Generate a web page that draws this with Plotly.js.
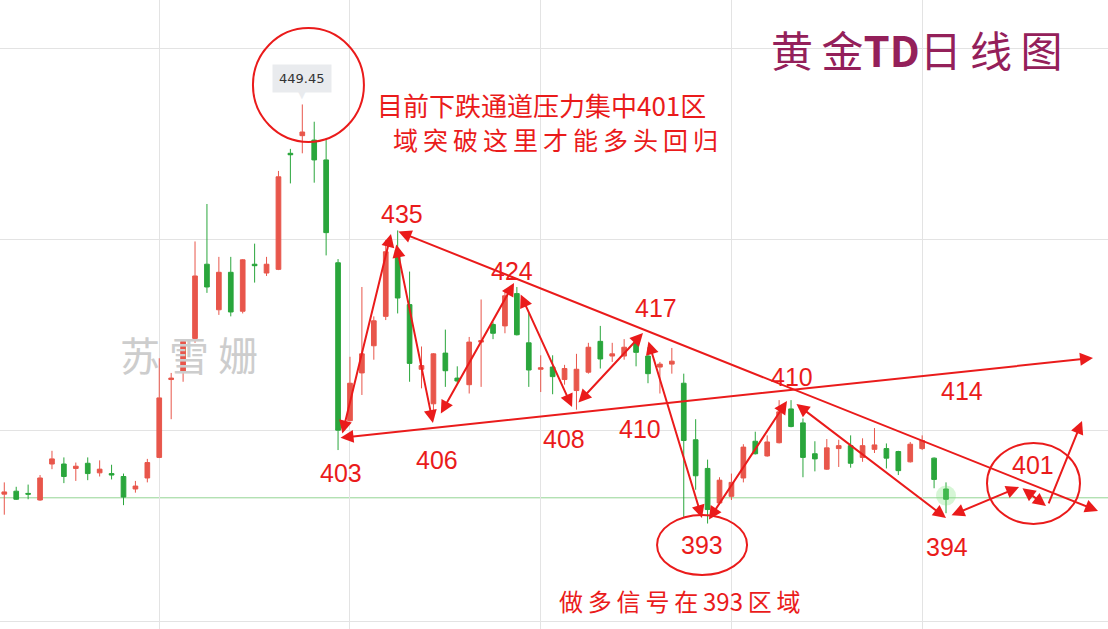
<!DOCTYPE html>
<html>
<head>
<meta charset="utf-8">
<script src="https://cdn.plot.ly/plotly-3.0.1.min.js"></script>
<style>
  html, body { margin: 0; padding: 0; background: #ffffff; }
  #chart { width: 1108px; height: 629px; }
</style>
</head>
<body>
<div id="chart"></div>
<script>
// ---- data (candle index, OHLC) ----
const candleIndex = [0,1,2,3,4,5,6,7,8,9,10,11,12,13,14,15,16,17,18,19,20,21,22,23,24,25,26,27,28,29,30,31,32,33,34,35,36,37,38,39,40,41,42,43,44,45,46,47,48,49,50,51,52,53,54,55,56,57,58,59,60,61,62,63,64,65,66,67,68,69,70,71,72,73,74,75,76,77,78,79];
const openPrices = [396.4,396.8,396.5,395.6,400.5,400.5,399.9,400.6,399.3,399.2,398.8,397.1,398.6,401.4,412.0,413.1,417.6,427.7,421.5,426.6,421.3,427.7,426.5,427.0,442.8,445.2,444.6,441.9,427.9,406.4,412.9,416.6,420.6,429.6,422.2,413.4,408.7,415.6,412.2,411.3,417.1,419.5,419.3,423.7,417.0,413.4,413.7,412.0,410.5,413.0,417.2,415.2,415.2,417.1,415.2,413.7,414.1,411.5,403.8,399.9,395.2,396.1,398.6,403.6,401.6,403.4,408.0,406.1,401.9,399.8,402.6,403.0,401.4,402.5,402.6,402.2,400.8,402.6,401.3,397.1];
const highPrices = [398.0,397.4,397.7,399.0,402.3,401.4,400.7,401.4,401.0,400.4,399.2,398.2,401.2,414.9,412.9,417.5,430.8,435.9,428.7,428.7,428.4,430.5,428.7,440.4,443.4,449.45,447.1,444.6,428.4,415.1,424.6,420.6,431.0,432.3,426.7,416.5,415.6,418.8,413.8,417.8,422.9,419.8,424.2,424.6,421.1,415.3,415.3,414.0,415.5,417.0,419.3,417.0,417.5,417.8,416.4,414.4,416.3,412.8,406.6,401.1,398.7,399.2,403.2,404.9,404.4,409.2,409.2,406.7,403.6,403.9,403.8,404.4,404.0,405.4,403.3,402.3,403.5,404.4,401.4,398.0];
const lowPrices = [393.6,395.6,395.7,395.5,399.8,397.9,398.2,398.3,398.8,398.4,394.9,396.6,398.0,401.3,406.6,411.7,417.0,423.8,420.8,420.6,421.0,425.2,426.1,426.9,438.7,442.8,438.8,428.9,402.4,406.3,409.9,414.7,420.1,421.0,411.7,410.8,406.9,411.0,411.5,410.1,411.0,417.5,418.3,418.0,411.0,410.3,410.0,411.3,407.9,412.8,413.5,414.4,414.7,413.8,411.5,410.1,412.8,393.3,397.0,392.4,395.0,395.6,398.0,401.8,401.5,403.3,405.5,398.7,399.5,399.7,400.1,400.0,400.8,402.0,399.9,399.0,400.7,402.4,397.2,393.8];
const closePrices = [396.7,395.7,396.4,398.6,401.2,398.8,400.2,399.2,399.8,399.0,396.0,397.5,400.7,409.5,412.2,417.2,426.1,424.6,426.6,421.2,428.3,427.5,427.7,439.6,442.6,445.7,441.9,432.0,405.1,411.5,415.5,420.0,429.4,423.1,414.2,413.9,415.5,413.2,411.8,417.1,417.3,418.3,423.4,418.1,413.3,413.6,412.4,413.5,413.4,416.4,414.8,415.5,416.4,415.7,412.8,414.1,414.5,403.7,398.9,394.3,398.3,398.0,402.8,401.9,403.5,407.6,405.6,401.4,401.2,402.7,403.0,400.6,403.0,403.1,401.3,399.6,403.2,403.7,398.4,395.7];
const currentPriceLine = 395.9;
const peakLabel = "449.45";

// key level labels (text, candle index, price)
const levelText  = ["435","424","417","410","414","403","406","408","410","394","393","401"];
const levelX     = [33.4, 42.6, 54.7, 66.1, 80.3, 28.25, 36.3, 46.95, 53.3, 79.1, 58.5, 86.3];
const levelY     = [434.5, 426.8, 421.7, 412.35, 410.45, 399.3, 401.05, 403.9, 405.3, 389.2, 389.5, 400.4];

// ---- drawing config ----
const RED = "#ea1b1b";
const TS = "\u2009"; // thin space for letter spacing
function spaced(s) {
  // put thin spaces between CJK characters, keep digit/latin runs together
  const parts = s.match(/[0-9A-Za-z.]+|./g);
  return parts.join(TS);
}
// arrow segments: [x0, y0, x1, y1, double-headed]
const arrowSegs = [
  [28.08, 404.05, 91.33, 414.94, true],   // lower trend line
  [32.94, 432.22, 91.75, 394.11, true],   // upper trend line
  [28.33, 404.45, 32.44, 431.82, true],
  [32.86, 430.59, 35.96, 406.09, true],
  [36.55, 407.18, 42.76, 425.15, true],
  [43.26, 423.78, 47.63, 408.27, true],
  [48.05, 408.67, 53.58, 418.34, true],
  [54.00, 417.39, 58.53, 393.15, true],
  [59.03, 392.75, 65.66, 409.08, true],
  [66.33, 408.81, 79.00, 393.15, true],
  [79.34, 393.43, 85.13, 397.37, true],
  [85.29, 397.37, 87.39, 394.79, true],
  [87.56, 394.93, 90.41, 406.36, false]
];
const ellipses = [
  [20.86, 444.34, 30.17, 459.86],
  [54.76, 385.40, 62.31, 393.56],
  [82.44, 392.34, 90.24, 403.36]
];

const traces = [
  {
    type: "candlestick",
    x: candleIndex, open: openPrices, high: highPrices, low: lowPrices, close: closePrices,
    increasing: { line: { color: "#e8564b", width: 1 }, fillcolor: "#e8564b" },
    decreasing: { line: { color: "#2aa63c", width: 1 }, fillcolor: "#2aa63c" },
    whiskerwidth: 0,
    hoverinfo: "skip",
    showlegend: false
  },
  {
    type: "scatter", mode: "markers",
    x: [candleIndex[candleIndex.length - 1]],
    y: [closePrices[closePrices.length - 1] + 0.5],
    marker: { size: 20, color: "rgba(120,225,120,0.30)", line: { width: 0 } },
    hoverinfo: "skip", showlegend: false
  }
];

const annotations = [];
arrowSegs.forEach(s => {
  annotations.push({
    x: s[2], y: s[3], ax: s[0], ay: s[1],
    xref: "x", yref: "y", axref: "x", ayref: "y",
    text: "", showarrow: true,
    arrowhead: 2, startarrowhead: 2,
    arrowside: s[4] ? "end+start" : "end",
    arrowsize: 1.3, startarrowsize: 1.3, arrowwidth: 2, arrowcolor: RED
  });
});
levelText.forEach((t, i) => {
  annotations.push({
    x: levelX[i], y: levelY[i], xref: "x", yref: "y",
    text: t, showarrow: false, xanchor: "center", yanchor: "middle",
    font: { family: "Liberation Sans, Arial, sans-serif", size: 25, color: RED }
  });
});
// peak tooltip
annotations.push({
  x: 25, y: highPrices[25], xref: "x", yref: "y",
  text: peakLabel, showarrow: false, yanchor: "bottom", yshift: 11,
  bgcolor: "#e9ebee", borderpad: 6,
  font: { family: "DejaVu Sans, sans-serif", size: 13, color: "#333333" }
});
annotations.push({
  x: 25, y: highPrices[25], xref: "x", yref: "y",
  text: "▼", showarrow: false, yanchor: "bottom", yshift: 2,
  font: { family: "DejaVu Sans", size: 10, color: "#e9ebee" }
});
// comments
annotations.push({
  x: 0.338, y: 0.834, xref: "paper", yref: "paper", xanchor: "left", yanchor: "middle",
  text: "目前下跌通道压力集中401区", showarrow: false,
  font: { family: "Noto Sans CJK SC", size: 26, color: RED }
});
annotations.push({
  x: 0.353, y: 0.779, xref: "paper", yref: "paper", xanchor: "left", yanchor: "middle",
  text: spaced("域突破这里才能多头回归"), showarrow: false,
  font: { family: "Noto Sans CJK SC", size: 25, color: RED }
});
annotations.push({
  x: 0.614, y: 0.046, xref: "paper", yref: "paper", xanchor: "center", yanchor: "middle",
  text: spaced("做多信号在393区域"), showarrow: false,
  font: { family: "Noto Sans CJK SC", size: 24, color: RED }
});
annotations.push({
  x: 0.8275, y: 0.923, xref: "paper", yref: "paper", xanchor: "center", yanchor: "middle",
  text: "黄" + TS + "金<b>TD</b>日" + TS + "线" + TS + "图", showarrow: false,
  font: { family: "Noto Sans CJK SC", size: 42, color: "#94205a" }
});
annotations.push({
  x: 0.171, y: 0.437, xref: "paper", yref: "paper", xanchor: "center", yanchor: "middle",
  text: "苏 雪 姗", showarrow: false,
  font: { family: "Noto Sans CJK SC", size: 40, color: "#cdcdcd" }
});

const shapes = [
  { type: "line", xref: "paper", x0: 0, x1: 1, yref: "y", y0: currentPriceLine, y1: currentPriceLine,
    line: { color: "#93d493", width: 1 }, layer: "below" }
];
ellipses.forEach(e => shapes.push({
  type: "circle", xref: "x", yref: "y", x0: e[0], y0: e[1], x1: e[2], y1: e[3],
  line: { color: RED, width: 2 }
}));

const layout = {
  width: 1108, height: 629,
  margin: { l: 0, r: 0, t: 0, b: 0, pad: 0 },
  paper_bgcolor: "#ffffff", plot_bgcolor: "#ffffff",
  showlegend: false,
  boxgap: 0.44,
  xaxis: {
    range: [-0.36, 92.59], rangeslider: { visible: false },
    showticklabels: false, ticks: "", tick0: 13, dtick: 16,
    showgrid: true, gridcolor: "#e3e3e3", gridwidth: 1, zeroline: false, showline: false, fixedrange: true
  },
  yaxis: {
    range: [378.04, 463.67],
    showticklabels: false, ticks: "", tick0: 431, dtick: 26,
    showgrid: true, gridcolor: "#e3e3e3", gridwidth: 1, zeroline: false, showline: false, fixedrange: true
  },
  annotations: annotations,
  shapes: shapes
};

Plotly.newPlot("chart", traces, layout, { staticPlot: true, displayModeBar: false });
</script>
</body>
</html>
